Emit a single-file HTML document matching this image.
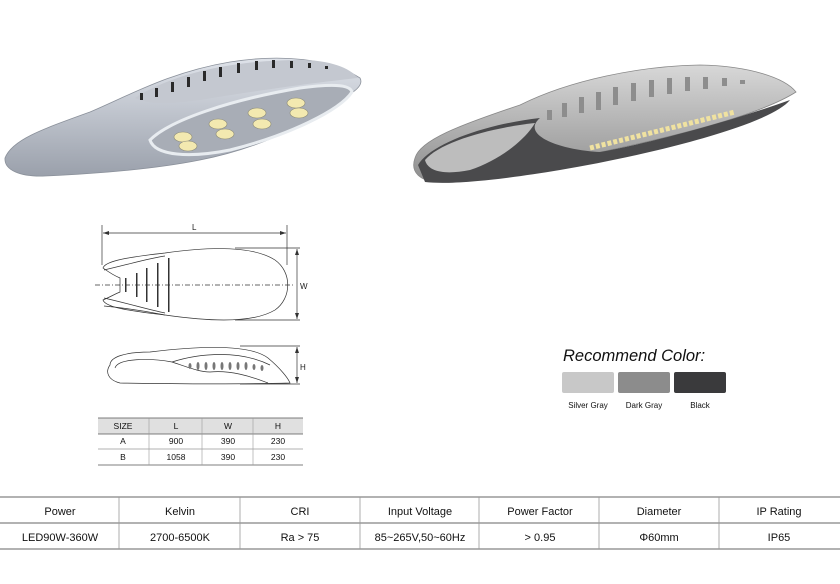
<!DOCTYPE html>
<html><head><meta charset="utf-8"><style>
html,body{margin:0;padding:0;background:#fff;}
svg{display:block;font-family:"Liberation Sans",Arial,sans-serif;}
</style></head><body>
<svg width="840" height="584" viewBox="0 0 840 584" xmlns="http://www.w3.org/2000/svg">
<defs>
<linearGradient id="g1" x1="0" y1="0" x2="0" y2="1"><stop offset="0" stop-color="#dfe3ea"/><stop offset="1" stop-color="#9aa0ab"/></linearGradient>
<linearGradient id="g2" x1="0" y1="0" x2="0" y2="1"><stop offset="0" stop-color="#d8d8d8"/><stop offset="1" stop-color="#8e8e8e"/></linearGradient>
</defs>
<!-- Lamp 1 -->
<path d="M5,158 C12,140 40,130 90,112 C130,95 170,72 230,62 C280,54 330,58 360,78 C364,85 355,92 340,100 C300,130 250,150 200,160 C150,170 90,174 45,176 C20,177 4,170 5,158Z" fill="url(#g1)" stroke="#8a909a" stroke-width="0.8"/>
<path d="M135,98 C170,75 230,60 300,60 C330,60 350,68 358,78 C320,82 260,90 200,100 C170,104 150,105 135,98Z" fill="#c4c8d0"/>
<path d="M150,140 C170,120 230,100 300,88 C330,84 350,84 352,92 C340,110 290,135 230,150 C190,158 155,156 150,140Z" fill="#a8adb6" stroke="#e8ecf0" stroke-width="3"/>
<g fill="#2a2a2a">
<rect x="140" y="93" width="3" height="7"/><rect x="155" y="88" width="3" height="9"/><rect x="171" y="82" width="3" height="10"/><rect x="187" y="77" width="3" height="10"/><rect x="203" y="71" width="3" height="10"/><rect x="219" y="67" width="3" height="10"/><rect x="237" y="63" width="3" height="10"/><rect x="255" y="61" width="3" height="9"/><rect x="272" y="60" width="3" height="8"/><rect x="290" y="61" width="3" height="7"/><rect x="308" y="63" width="3" height="5"/><rect x="325" y="66" width="3" height="3"/>
</g>
<g fill="#f3e9b0" stroke="#8a8a7a" stroke-width="0.6">
<ellipse cx="183" cy="137" rx="9" ry="5"/><ellipse cx="188" cy="146" rx="9" ry="5"/><ellipse cx="218" cy="124" rx="9" ry="5"/><ellipse cx="225" cy="134" rx="9" ry="5"/><ellipse cx="257" cy="113" rx="9" ry="5"/><ellipse cx="262" cy="124" rx="9" ry="5"/><ellipse cx="296" cy="103" rx="9" ry="5"/><ellipse cx="299" cy="113" rx="9" ry="5"/>
</g>
<!-- Lamp 2 -->
<path d="M415,158 C420,140 460,125 520,105 C570,80 640,66 700,65 C750,66 785,78 796,92 C760,115 680,135 610,150 C540,165 480,180 440,182 C420,182 410,172 415,158Z" fill="url(#g2)" stroke="#888" stroke-width="0.8"/>
<path d="M418,165 C430,145 480,125 540,118 C520,135 560,150 600,152 C640,145 720,125 790,100 C770,125 650,155 560,170 C500,180 450,185 425,182Z" fill="#4a4a4c"/>
<path d="M425,160 C440,142 490,128 535,123 C525,140 500,160 470,170 C445,175 428,172 425,160Z" fill="#bdbdbd"/>
<path d="M590,148 L735,112" stroke="#f0e2a0" stroke-width="5" stroke-dasharray="4,2"/>
<g fill="#8d8d8d">
<rect x="547" y="110" width="5" height="10"/><rect x="562" y="103" width="5" height="14"/><rect x="579" y="97" width="5" height="16"/><rect x="596" y="92" width="5" height="18"/><rect x="613" y="87" width="5" height="18"/><rect x="631" y="83" width="5" height="18"/><rect x="649" y="80" width="5" height="17"/><rect x="667" y="78" width="5" height="16"/><rect x="685" y="77" width="5" height="14"/><rect x="703" y="77" width="5" height="12"/><rect x="722" y="78" width="5" height="8"/><rect x="740" y="80" width="5" height="4"/>
</g>
<!-- dimension drawing top view -->
<g stroke="#333" stroke-width="0.7" fill="none">
<line x1="102" y1="225" x2="102" y2="265"/><line x1="287" y1="225" x2="287" y2="265"/>
<line x1="103" y1="233" x2="286" y2="233"/>
<line x1="235" y1="248" x2="300" y2="248"/><line x1="235" y1="320" x2="300" y2="320"/>
<line x1="297" y1="249" x2="297" y2="319"/>
<path d="M103,268 C105,262 120,258 165,253 C200,248 250,244 275,260 C292,272 292,298 275,310 C250,325 200,320 165,315 C120,310 105,306 103,300 C110,297 115,294 120,292 L120,278 C115,276 110,273 103,268Z"/>
<path d="M104,270 C130,264 150,258 165,256 M104,298 C130,304 150,310 165,313"/>
<path d="M104,306 C125,308 150,312 165,315"/>
<line x1="95" y1="285" x2="295" y2="285" stroke-dasharray="5,2,1,2"/>
<!-- side view -->
<line x1="240" y1="346" x2="300" y2="346"/><line x1="240" y1="384" x2="300" y2="384"/>
<line x1="297" y1="347" x2="297" y2="383"/>
<path d="M110,365 C110,357 125,352 150,352 C200,346 250,344 268,358 C280,368 288,378 290,383 C250,384 180,384 120,383 C108,380 105,372 110,365Z"/>
<path d="M115,368 C118,358 150,358 172,362 C190,368 200,372 210,372 C230,370 250,376 268,383"/>
<path d="M172,362 C200,353 240,350 270,365"/>
</g>
<g fill="#333">
<path d="M103,233 l6,-2 v4z"/><path d="M286,233 l-6,-2 v4z"/>
<path d="M297,249 l-2,6 h4z"/><path d="M297,319 l-2,-6 h4z"/>
<path d="M297,347 l-2,6 h4z"/><path d="M297,383 l-2,-6 h4z"/>
<rect x="125" y="278" width="1.5" height="14"/><rect x="136" y="273" width="1.5" height="24"/><rect x="146" y="268" width="1.5" height="34"/><rect x="157" y="263" width="1.5" height="44"/><rect x="168" y="258" width="1.5" height="54"/>
<g fill="#777"><ellipse cx="190" cy="366" rx="1.5" ry="3"/><ellipse cx="198" cy="366" rx="1.5" ry="4"/><ellipse cx="206" cy="366" rx="1.5" ry="4"/><ellipse cx="214" cy="366" rx="1.5" ry="4"/><ellipse cx="222" cy="366" rx="1.5" ry="4"/><ellipse cx="230" cy="366" rx="1.5" ry="4"/><ellipse cx="238" cy="366" rx="1.5" ry="4"/><ellipse cx="246" cy="366" rx="1.5" ry="4"/><ellipse cx="254" cy="367" rx="1.5" ry="3"/><ellipse cx="262" cy="368" rx="1.5" ry="3"/></g>
</g>
<g font-size="8" fill="#222"><text x="192" y="230">L</text><text x="300" y="289">W</text><text x="300" y="370">H</text></g>
<!-- size table -->
<rect x="98" y="418" width="205" height="16" fill="#e0e0e0"/>
<g stroke="#555" stroke-width="0.8">
<line x1="98" y1="418" x2="303" y2="418"/><line x1="98" y1="434" x2="303" y2="434"/><line x1="98" y1="449" x2="303" y2="449" stroke="#999"/><line x1="98" y1="465" x2="303" y2="465"/>
</g>
<g stroke="#999" stroke-width="0.6"><line x1="149" y1="418" x2="149" y2="465"/><line x1="202" y1="418" x2="202" y2="465"/><line x1="253" y1="418" x2="253" y2="465"/></g>
<g font-size="8.5" fill="#111" text-anchor="middle">
<text x="123" y="429">SIZE</text><text x="176" y="429">L</text><text x="228" y="429">W</text><text x="278" y="429">H</text>
<text x="123" y="444">A</text><text x="176" y="444">900</text><text x="228" y="444">390</text><text x="278" y="444">230</text>
<text x="123" y="460">B</text><text x="176" y="460">1058</text><text x="228" y="460">390</text><text x="278" y="460">230</text>
</g>
<!-- recommend color -->
<text x="563" y="361" font-size="16.5" font-style="italic" fill="#111">Recommend Color:</text>
<rect x="562" y="372" width="52" height="21" rx="2" fill="#c8c8c8"/>
<rect x="618" y="372" width="52" height="21" rx="2" fill="#8c8c8c"/>
<rect x="674" y="372" width="52" height="21" rx="2" fill="#3a3a3c"/>
<g font-size="8" fill="#111" text-anchor="middle"><text x="588" y="408">Silver Gray</text><text x="644" y="408">Dark Gray</text><text x="700" y="408">Black</text></g>
<!-- spec table -->
<g stroke="#666" stroke-width="1"><line x1="0" y1="497" x2="840" y2="497"/><line x1="0" y1="523" x2="840" y2="523"/><line x1="0" y1="549" x2="840" y2="549"/></g>
<g stroke="#999" stroke-width="0.8"><line x1="119" y1="497" x2="119" y2="549"/><line x1="240" y1="497" x2="240" y2="549"/><line x1="360" y1="497" x2="360" y2="549"/><line x1="479" y1="497" x2="479" y2="549"/><line x1="599" y1="497" x2="599" y2="549"/><line x1="719" y1="497" x2="719" y2="549"/></g>
<g font-size="11" fill="#111" text-anchor="middle">
<text x="60" y="515">Power</text><text x="180" y="515">Kelvin</text><text x="300" y="515">CRI</text><text x="420" y="515">Input Voltage</text><text x="540" y="515">Power Factor</text><text x="659" y="515">Diameter</text><text x="779" y="515">IP Rating</text>
<text x="60" y="541">LED90W-360W</text><text x="180" y="541">2700-6500K</text><text x="300" y="541">Ra &gt; 75</text><text x="420" y="541">85~265V,50~60Hz</text><text x="540" y="541">&gt; 0.95</text><text x="659" y="541">Φ60mm</text><text x="779" y="541">IP65</text>
</g>
</svg>
</body></html>
